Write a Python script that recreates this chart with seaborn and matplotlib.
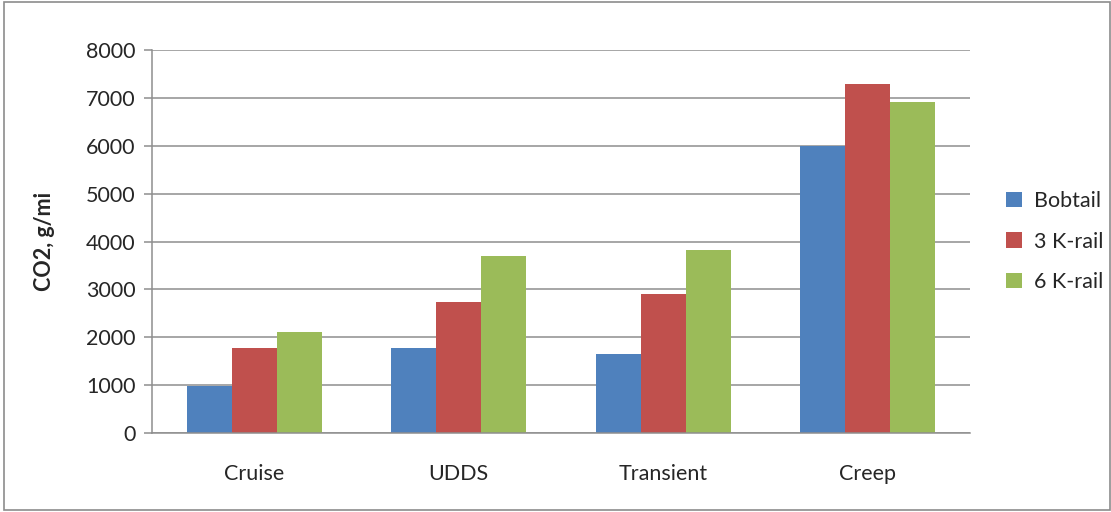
import matplotlib
matplotlib.use("Agg")
import matplotlib.pyplot as plt
import numpy as np
import pandas as pd
import seaborn as sns
from matplotlib.patches import Rectangle

cycles = ["Cruise", "UDDS", "Transient", "Creep"]
configs = ["Bobtail", "3 K-rail", "6 K-rail"]
bobtail = [980, 1770, 1650, 5990]
k_rail_3 = [1770, 2740, 2900, 7285]
k_rail_6 = [2105, 3700, 3825, 6910]
colours = ["#4f81bd", "#c0504d", "#9bbb59"]

df = pd.DataFrame({
    "Cycle": cycles * 3,
    "Config": np.repeat(configs, len(cycles)),
    "CO2": bobtail + k_rail_3 + k_rail_6,
})

sns.set_style("white")
plt.rcParams["font.family"] = ["Lato", "DejaVu Sans"]

fig = plt.figure(figsize=(11.11, 5.12), dpi=100)
ax = fig.add_axes([0.1368, 0.1543, 0.7363, 0.748])
fig.patches.append(Rectangle((0.004, 0.004), 0.995, 0.992, transform=fig.transFigure,
                             fill=False, edgecolor="#8c8c8c", linewidth=1.2))

sns.barplot(data=df, x="Cycle", y="CO2", hue="Config", palette=colours,
            width=0.66, gap=0, saturation=1, linewidth=0, ax=ax)

ax.set_xlim(-0.5, 3.5)
ax.set_ylim(0, 8000)
ax.set_yticks(range(0, 8001, 1000))
ax.yaxis.grid(True, color="#8e8e8e", linewidth=1.1)
ax.set_axisbelow(True)
for side in ("top", "right"):
    ax.spines[side].set_visible(False)
for side in ("left", "bottom"):
    ax.spines[side].set_color("#8e8e8e")
    ax.spines[side].set_linewidth(1.1)

ax.set_xticks(np.arange(-0.5, 4.0, 1.0), minor=True)
ax.tick_params(axis="x", which="major", length=0, pad=22, labelsize=15.5)
ax.tick_params(axis="x", which="minor", length=6, color="#8e8e8e", width=1.1)
ax.tick_params(axis="y", which="major", left=True, length=6, color="#8e8e8e",
               width=1.1, pad=6, labelsize=15.5)

ax.set_xlabel("")
ax.set_ylabel("CO2, g/mi", fontsize=15.5, fontweight="bold", labelpad=22)

ax.legend(loc="center left", bbox_to_anchor=(1.02, 0.5), frameon=False,
          fontsize=15.5, handlelength=0.75, handleheight=0.75, handletextpad=0.55,
          labelspacing=0.95)

fig.savefig("out.png", dpi=100)
